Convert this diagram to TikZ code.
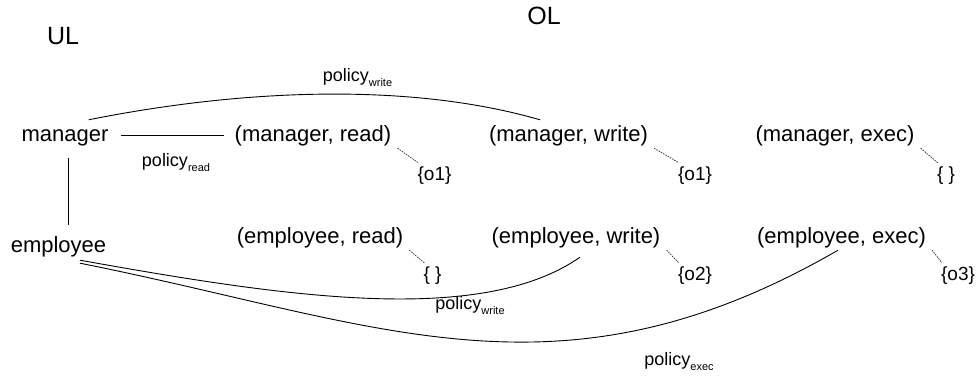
\documentclass[tikz,border=0pt]{standalone}
\usepackage{fontspec}
\setmainfont{Liberation Sans}
\newcommand{\polsub}[1]{policy\raisebox{-5pt}{\fontsize{11}{11}\selectfont #1}}
\begin{document}
\begin{tikzpicture}[x=1pt,y=-1pt,
  pair/.style={font=\fontsize{22}{26}\selectfont, anchor=base, inner sep=0pt, text height=16pt, text depth=5pt},
  objset/.style={font=\fontsize{19}{22}\selectfont, anchor=base, inner sep=0pt, text height=14pt, text depth=4pt},
  pollabel/.style={font=\fontsize{18}{22}\selectfont, anchor=base, inner sep=0pt},
  biglabel/.style={font=\fontsize{25}{30}\selectfont, anchor=base, inner sep=0pt},
  conn/.style={line width=0.9pt, black},
  dotl/.style={line width=0.7pt, dash pattern=on 1.5pt off 1.1pt, black!85}]
\useasboundingbox[fill=white] (0,0) rectangle (977,375);

\node[biglabel] (ul) at (63,44) {UL};
\node[biglabel] (ol) at (544,24) {OL};

\node[pair] (mgr) at (65,141) {manager};
\node[pair] (mr) at (313,141) {(manager, read)};
\node[pair] (mw) at (568.5,141) {(manager, write)};
\node[pair] (mx) at (835,141) {(manager, exec)};

\node[pair] (emp) at (58.5,252) {employee};
\node[pair] (er) at (320,243) {(employee, read)};
\node[pair] (ew) at (576,243) {(employee, write)};
\node[pair] (ex) at (841.5,243) {(employee, exec)};

\node[objset] (o1a) at (434.5,180) {\{o1\}};
\node[objset] (o1b) at (695,180) {\{o1\}};
\node[objset] (oe1) at (946,180) {\{ \}};
\node[objset] (oe2) at (432.5,280) {\{ \}};
\node[objset] (o2) at (695,280) {\{o2\}};
\node[objset] (o3) at (958,280) {\{o3\}};

\node[pollabel] (prd) at (176,166) {\polsub{read}};
\node[pollabel] (pwt) at (357.5,81) {\polsub{write}};
\node[pollabel] (pwb) at (470,309) {\polsub{write}};
\node[pollabel] (pex) at (679,365) {\polsub{exec}};

% solid connectors
\draw[conn] ([xshift=12pt]mgr.east) -- ([xshift=-11pt]mr.west);
\draw[conn] ([shift={(3,12)}]mgr.south) -- ([shift={(9.5,-11)}]emp.north);
\draw[conn] ([shift={(-20,-5)}]mgr.north east) .. controls (258,86) and (420,85) .. ([shift={(-28.5,-5)}]mw.north);
\draw[conn] ([shift={(21.5,3)}]emp.south) .. controls (280,296) and (480,327) .. ([shift={(4,9)}]ew.south);
\draw[conn] ([shift={(21.5,6)}]emp.south) .. controls (380,323) and (558,412) .. ([shift={(-3.5,2)}]ex.south);

% dotted links to object sets
\draw[dotl] ([shift={(6,2)}]mr.south east) -- ([shift={(1,-3)}]o1a.north west);
\draw[dotl] ([shift={(6,2)}]mw.south east) -- ([shift={(1,-3)}]o1b.north west);
\draw[dotl] ([shift={(6,2)}]mx.south east) -- ([shift={(1,-3)}]oe1.north west);
\draw[dotl] ([shift={(6,2)}]er.south east) -- ([shift={(1,-3)}]oe2.north west);
\draw[dotl] ([shift={(6,2)}]ew.south east) -- ([shift={(1,-3)}]o2.north west);
\draw[dotl] ([shift={(6,2)}]ex.south east) -- ([shift={(1,-3)}]o3.north west);
\end{tikzpicture}
\end{document}
